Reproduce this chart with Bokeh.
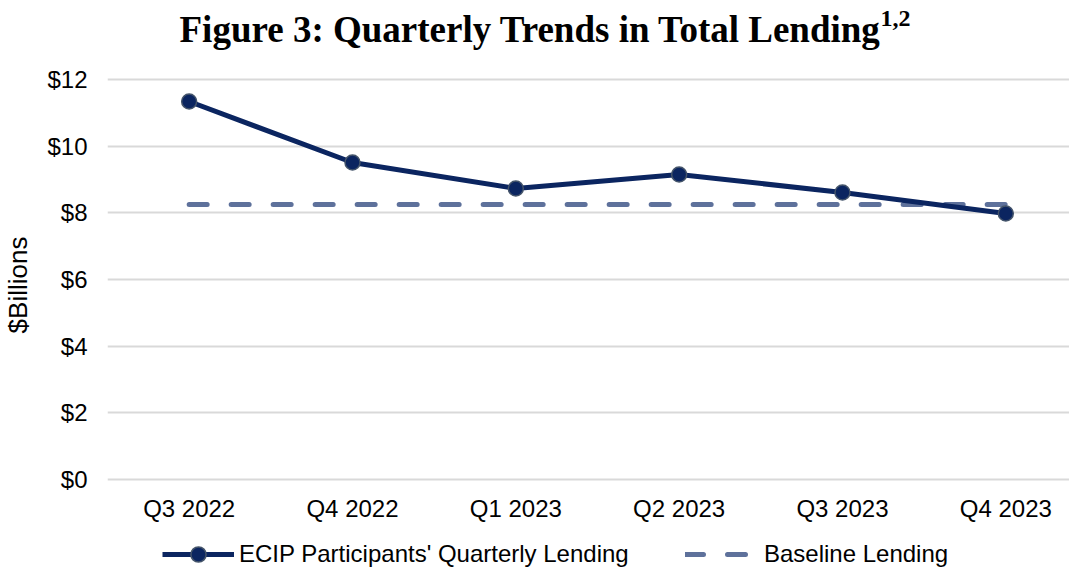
from bokeh.plotting import figure
from bokeh.models import Range1d, FixedTicker, Label, Legend, LegendItem
from bokeh.embed import file_html
from bokeh.resources import INLINE

quarters = ["Q3 2022", "Q4 2022", "Q1 2023", "Q2 2023", "Q3 2023", "Q4 2023"]
ecip_lending = [11.34, 9.51, 8.73, 9.15, 8.61, 7.98]
baseline_lending = [8.25, 8.25, 8.25, 8.25, 8.25, 8.25]
y_ticks = [0, 2, 4, 6, 8, 10, 12]
y_tick_labels = ["$0", "$2", "$4", "$6", "$8", "$10", "$12"]

xs = list(range(len(quarters)))

H = 569
p = figure(width=1069, height=H, output_backend="svg", toolbar_location=None,
           x_range=Range1d(-0.5, 5.39), y_range=Range1d(-2.70, 14.37),
           min_border_left=97, min_border_right=0, min_border_top=0, min_border_bottom=0)
p.outline_line_color = None
p.background_fill_color = "white"

navy = "#0B2560"
slate = "#5E719B"

r_base = p.line(xs, baseline_lending, line_color=slate, line_width=5, line_dash="18 24", line_cap="round")
r_line = p.line(xs, ecip_lending, line_color=navy, line_width=5)
r_pts = p.scatter(xs, ecip_lending, size=15, fill_color=navy, line_color="#44546A", line_width=1.5)

# axes
p.xaxis.ticker = FixedTicker(ticks=xs)
p.xaxis.major_label_overrides = {i: q for i, q in enumerate(quarters)}
p.xaxis.fixed_location = 0
p.yaxis.ticker = FixedTicker(ticks=y_ticks)
p.yaxis.major_label_overrides = {t: l for t, l in zip(y_ticks, y_tick_labels)}
for ax in (p.xaxis, p.yaxis):
    ax.axis_line_color = None
    ax.major_tick_line_color = None
    ax.minor_tick_line_color = None
    ax.major_label_text_font = "Liberation Sans"
    ax.major_label_text_font_size = "24px"
    ax.major_label_text_color = "#000000"
p.xaxis.major_label_standoff = 9
p.yaxis.major_label_standoff = 14
p.yaxis.axis_label = "$Billions"
p.yaxis.axis_label_text_font = "Liberation Sans"
p.yaxis.axis_label_text_font_size = "26px"
p.yaxis.axis_label_text_font_style = "normal"
p.yaxis.axis_label_text_color = "#000000"
p.yaxis.axis_label_standoff = 11

p.xgrid.grid_line_color = None
p.ygrid.grid_line_color = "#D9D9D9"
p.ygrid.grid_line_width = 2

# title as labels
p.add_layout(Label(x=72, y=H - 29, x_units="screen", y_units="screen",
                   text="Figure 3: Quarterly Trends in Total Lending",
                   text_font="Liberation Serif", text_font_style="bold",
                   text_font_size="37px", text_color="#000000", text_baseline="alphabetic"))
p.add_layout(Label(x=773, y=H - 18, x_units="screen", y_units="screen",
                   text="1,2",
                   text_font="Liberation Serif", text_font_style="bold",
                   text_font_size="24px", text_color="#000000", text_baseline="alphabetic"))

# legends
common = dict(glyph_height=38, padding=0, margin=0, border_line_color=None,
              background_fill_alpha=0, label_text_font="Liberation Sans",
              label_text_font_size="24px", label_height=38, label_text_color="#000000")
leg1 = Legend(items=[LegendItem(label="ECIP Participants' Quarterly Lending", renderers=[r_line, r_pts])],
              location=(55, -4), glyph_width=72, label_standoff=5, **common)
leg2 = Legend(items=[LegendItem(label="Baseline Lending", renderers=[r_base])],
              location=(578, -4), glyph_width=65, label_standoff=14, **common)
p.add_layout(leg1, "center")
p.add_layout(leg2, "center")

open("out.html", "w").write(file_html(p, INLINE))
